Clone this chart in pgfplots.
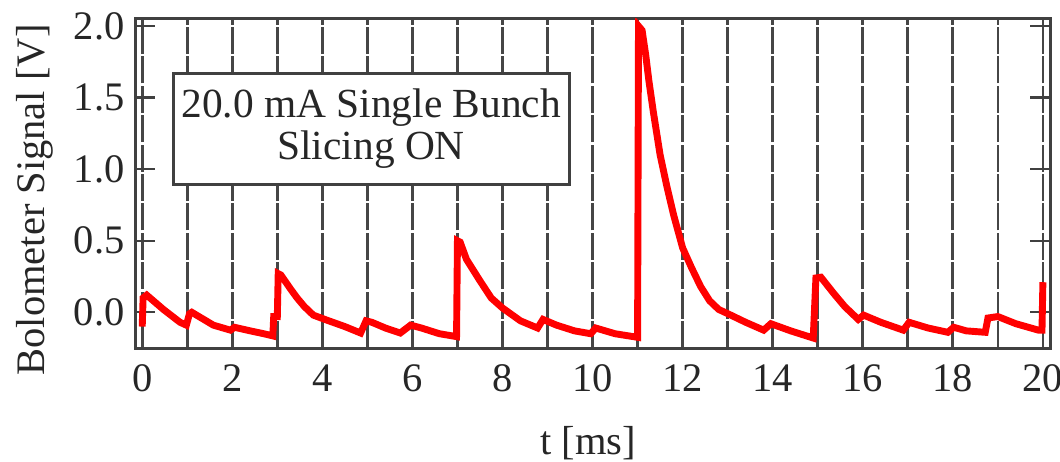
\documentclass[border=0pt]{standalone}
\usepackage{fontspec}
\setmainfont{Liberation Serif}
\usepackage{pgfplots}
\pgfplotsset{compat=1.18}
\definecolor{framegray}{RGB}{64,64,64}
\definecolor{gridgray}{RGB}{70,70,70}

\begin{document}
\begin{tikzpicture}
\useasboundingbox (-45pt,-37.7pt) rectangle (308.3pt,116pt);
\begin{axis}[
  at={(0,0)}, anchor=south west,
  scale only axis, width=305pt, height=109.7pt,
  xmin=-0.16, xmax=20.16, ymin=-0.25, ymax=2.05,
  xtick={0,2,...,20}, minor xtick={1,3,...,19},
  ytick={0,0.5,...,2},
  xmajorgrids, xminorgrids,
  major grid style={gridgray, line width=0.9pt, dash pattern=on 9pt off 0.8pt},
  minor grid style={gridgray, line width=0.9pt, dash pattern=on 9pt off 0.8pt},
  x tick style={draw=none},
  y tick style={framegray, line width=0.8pt},
  tick align=inside, major tick length=6.7pt,
  axis line style={framegray, line width=1pt},
  /pgf/number format/assume math mode=true,
  yticklabel style={/pgf/number format/.cd, fixed, fixed zerofill, precision=1},
  ticklabel style={font=\fontsize{13.5}{15}\selectfont, text=black!85},
  xticklabel style={yshift=-2pt},
  xlabel={t [ms]}, ylabel={Bolometer Signal [V]},
  label style={font=\fontsize{13.5}{15}\selectfont, text=black!85},
  xlabel style={at={(axis description cs:0.495,-0.29)}, anchor=center},
  ylabel style={at={(axis description cs:-0.11,0.45)}, anchor=center},
]

% bolometer trace
\addplot[red, line width=2.3pt] coordinates {
  (0.0,-0.10) (0.02,0.10) (0.1,0.12) (0.47,0.02) (0.84,-0.07) (0.98,-0.09)
  (1.05,-0.01) (1.1,0.0) (1.58,-0.09) (1.96,-0.125) (2.05,-0.105)
  (2.4,-0.13) (2.7,-0.15) (2.9,-0.165) (2.92,-0.03) (3.0,-0.03)
  (3.02,0.27) (3.08,0.26) (3.3,0.16) (3.44,0.10) (3.6,0.04) (3.8,-0.02)
  (4.1,-0.055) (4.5,-0.10) (4.85,-0.145) (4.97,-0.06) (5.1,-0.07)
  (5.4,-0.11) (5.73,-0.145) (5.96,-0.09) (6.2,-0.11) (6.6,-0.15)
  (6.98,-0.17) (7.0,0.50) (7.06,0.49) (7.2,0.37) (7.5,0.22) (7.75,0.10)
  (8.0,0.03) (8.4,-0.06) (8.78,-0.11) (8.9,-0.05) (9.2,-0.09) (9.6,-0.13)
  (9.96,-0.15) (10.07,-0.11) (10.5,-0.15) (11.0,-0.175) (11.02,2.0)
  (11.1,1.97) (11.18,1.80) (11.25,1.62) (11.35,1.40) (11.5,1.10)
  (11.65,0.88) (11.8,0.68) (12.0,0.45) (12.2,0.31) (12.4,0.18) (12.6,0.08)
  (12.8,0.02) (13.07,-0.02) (13.4,-0.07) (13.8,-0.125) (13.96,-0.08)
  (14.4,-0.13) (14.9,-0.18) (14.96,0.24) (15.07,0.245) (15.36,0.13)
  (15.6,0.04) (15.9,-0.05) (16.02,-0.02) (16.4,-0.07) (16.9,-0.125)
  (17.03,-0.07) (17.45,-0.11) (17.89,-0.14) (18.02,-0.105) (18.3,-0.13)
  (18.72,-0.14) (18.78,-0.04) (19.0,-0.03) (19.4,-0.08) (19.9,-0.125)
  (19.98,-0.125) (20.0,0.21)
};

\node[draw=framegray, line width=1pt, fill=white, minimum width=132pt,
      minimum height=37pt, inner sep=0pt, align=center, text=black!85,
      font=\fontsize{13.8}{14}\selectfont]
  at (rel axis cs:0.258,0.667) {20.0 mA Single Bunch\\Slicing ON};

\end{axis}
\end{tikzpicture}
\end{document}
